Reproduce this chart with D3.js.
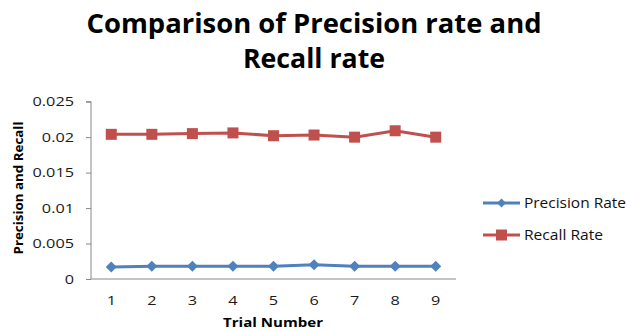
<!DOCTYPE html>
<html><head><meta charset="utf-8">
<script src="https://cdn.jsdelivr.net/npm/d3@7"></script>
<style>body{margin:0;background:#fff}svg{display:block}text{font-family:"Open Sans",sans-serif}</style>
</head><body><svg id="c" width="629" height="332"></svg>
<script>
const trials = ["1","2","3","4","5","6","7","8","9"];
const precisionRate = [0.0017,0.0018,0.0018,0.0018,0.0018,0.0020,0.0018,0.0018,0.0018];
const recallRate = [0.0204,0.0204,0.0205,0.0206,0.0202,0.0203,0.0200,0.0209,0.0200];
const yTicks = [0,0.005,0.01,0.015,0.02,0.025];
const titleLines = ["Comparison of Precision rate and","Recall rate"];
const seriesNames = ["Precision Rate","Recall Rate"];
const colors = ["#4f81bd","#c0504d"];

const svg = d3.select("#c");
const m = {l:91, r:456, t:101.7, b:279};
const x = d3.scaleBand().domain(trials).range([m.l,m.r]);
const y = d3.scaleLinear().domain([0,0.025]).range([m.b,m.t]);

function stretch(sel, k){
  sel.each(function(){
    const w = this.getComputedTextLength();
    d3.select(this).attr("textLength", w*k).attr("lengthAdjust","spacingAndGlyphs");
  });
}

// title
const tl = [ {t:titleLines[0], y:33, w:455}, {t:titleLines[1], y:68, w:142} ];
tl.forEach(d=>{
  svg.append("text").attr("x",314).attr("y",d.y).attr("text-anchor","middle")
    .attr("font-size",26).attr("font-weight","bold").attr("fill","#000")
    .attr("textLength",d.w).attr("lengthAdjust","spacingAndGlyphs").text(d.t);
});

// y axis
const ya = svg.append("g").attr("transform",`translate(${m.l},0)`)
  .call(d3.axisLeft(y).tickValues(yTicks).tickSize(5).tickPadding(12)
    .tickFormat(d=>d===0?"0":String(+d.toFixed(3))));
ya.select(".domain").attr("stroke","#888").attr("d",`M-5,${m.t}H0V${m.b}`);
ya.selectAll(".tick line").attr("stroke","#888");
ya.selectAll(".tick text").attr("font-size",13).attr("fill","#1a1a1a").attr("font-family","Open Sans, sans-serif").call(stretch,1.25);

// x axis
const xa = svg.append("g").attr("transform",`translate(0,${m.b})`)
  .call(d3.axisBottom(x).tickSize(0).tickPadding(17));
xa.select(".domain").attr("stroke","#888").attr("d",`M${m.l},0H${m.r}`);
xa.selectAll(".tick text").attr("font-size",13).attr("fill","#1a1a1a").attr("font-family","Open Sans, sans-serif").call(stretch,1.25);

// axis titles
svg.append("text").attr("x",273).attr("y",327).attr("text-anchor","middle")
  .attr("font-size",12.5).attr("font-weight","bold").attr("textLength",100).attr("lengthAdjust","spacingAndGlyphs").text("Trial Number");
svg.append("text").attr("transform","translate(23,188) rotate(-90)").attr("text-anchor","middle")
  .attr("font-size",12).attr("font-weight","bold").attr("textLength",133).attr("lengthAdjust","spacingAndGlyphs").text("Precision and Recall");

const cx = d=>x(d)+x.bandwidth()/2;
const line = d3.line().x((d,i)=>cx(trials[i])).y(d=>y(d));

// precision
svg.append("path").datum(precisionRate).attr("d",line).attr("fill","none").attr("stroke",colors[0]).attr("stroke-width",3);
svg.selectAll(".pm").data(precisionRate).join("path").attr("class","pm")
  .attr("transform",(d,i)=>`translate(${cx(trials[i])},${y(d)})`)
  .attr("d","M0,-5.5L5.5,0L0,5.5L-5.5,0Z").attr("fill",colors[0]);

// recall
svg.append("path").datum(recallRate).attr("d",line).attr("fill","none").attr("stroke",colors[1]).attr("stroke-width",3);
svg.selectAll(".rm").data(recallRate).join("rect").attr("class","rm")
  .attr("x",(d,i)=>cx(trials[i])-5.5).attr("y",d=>y(d)-5.5).attr("width",11).attr("height",11).attr("fill",colors[1]);

// legend
const lg = svg.append("g");
const legW = [102,79];
seriesNames.forEach((n,i)=>{
  const ly = 203 + i*32;
  lg.append("line").attr("x1",483).attr("x2",520).attr("y1",ly).attr("y2",ly).attr("stroke",colors[i]).attr("stroke-width",3);
  if(i===0) lg.append("path").attr("transform",`translate(501.5,${ly})`).attr("d","M0,-4.5L4.5,0L0,4.5L-4.5,0Z").attr("fill",colors[i]);
  else lg.append("rect").attr("x",496).attr("y",ly-5.5).attr("width",11).attr("height",11).attr("fill",colors[i]);
  lg.append("text").attr("x",524).attr("y",ly+5).attr("font-size",14).attr("fill","#111")
    .attr("textLength",legW[i]).attr("lengthAdjust","spacingAndGlyphs").text(n);
});
</script></body></html>
